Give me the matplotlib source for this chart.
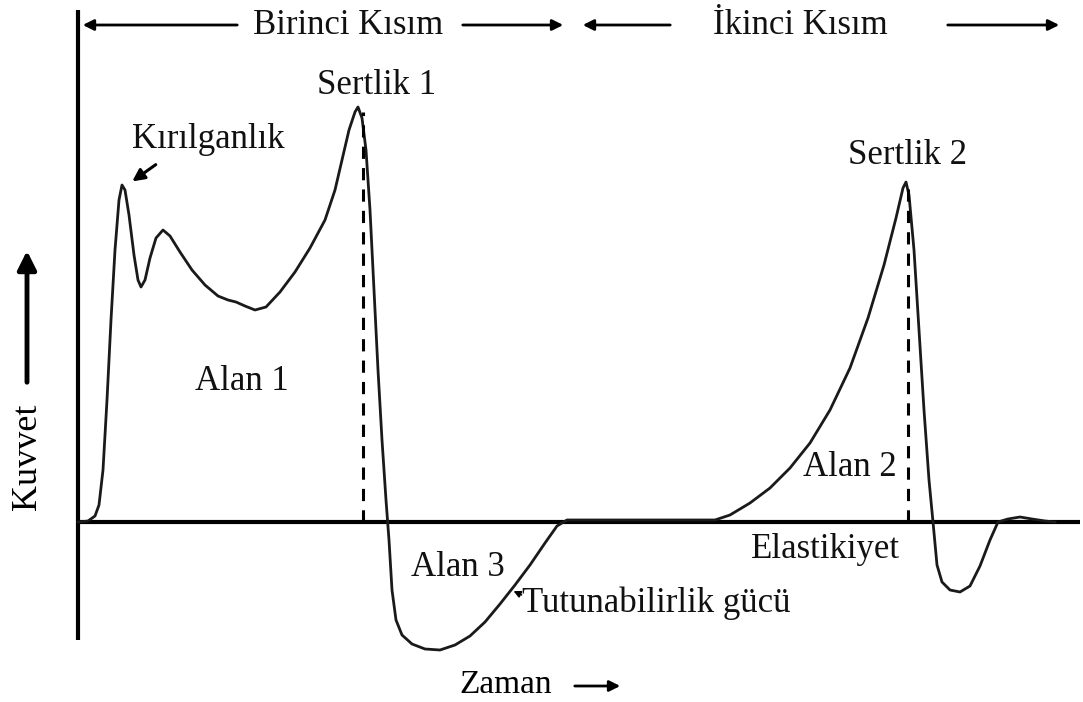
import matplotlib.pyplot as plt

# texture profile curve: time (x) and force (y), baseline at force 0
time = [0, 10, 17, 21, 25, 29, 33, 37, 41, 44, 47, 51, 56, 60, 63, 67, 72, 78, 85, 92,
        102, 114, 127, 140, 150, 158, 167, 177, 188, 202, 217, 232, 247, 257, 264, 271,
        277, 280, 284, 288, 292, 296, 300, 304, 308, 311, 314, 318, 324, 334, 347, 362,
        377, 392, 407, 422, 437, 452, 467, 479, 489, 502, 637, 652, 672, 692, 712, 732,
        752, 772, 790, 806, 818, 825, 828, 831, 836, 841, 846, 851, 855, 859, 864, 872,
        882, 892, 902, 912, 920, 930, 942, 954, 967, 977]
force = [0, 1, 6, 17, 52, 122, 202, 272, 322, 337, 332, 307, 267, 242, 235, 242, 264, 284,
         292, 286, 270, 252, 237, 226, 222, 220, 216, 212, 215, 230, 250, 274, 302, 332,
         362, 392, 410, 415, 404, 372, 312, 232, 152, 82, 22, -18, -68, -98, -113, -122,
         -127, -128, -123, -114, -100, -82, -63, -43, -21, -4, 2, 2, 2, 7, 19, 34, 54, 79,
         112, 154, 204, 257, 304, 334, 340, 327, 272, 192, 112, 42, 0, -43, -60, -68, -70,
         -64, -44, -18, 0, 3, 5, 3, 1, 0]

peak_times = [285, 830]
peak_forces = [410, 335]

labels = ["Sertlik 1", "Kırılganlık", "Sertlik 2", "Alan 1", "Alan 2", "Alan 3",
          "Tutunabilirlik gücü", "Elastikiyet"]
label_x = [299, 130, 830, 164, 772, 380, 444, 748]
label_y = [437, 382, 367, 140, 55, -45, -81, -28]

plt.rcParams["font.family"] = ["Liberation Serif", "DejaVu Serif"]
FS = 25

fig = plt.figure(figsize=(10.83, 7.02), dpi=100)
ax = fig.add_axes([0, 0, 1, 1])
ax.set_xlim(-78, 1005)
ax.set_ylim(-180, 522)
ax.axis("off")

# axes of the diagram
ax.plot([0, 0], [-118, 512], color="black", lw=3, solid_capstyle="butt")
ax.plot([0, 1002], [0, 0], color="black", lw=3, solid_capstyle="butt")

ax.plot(time, force, color="#1a1a1a", lw=2, solid_joinstyle="round")

for t, f in zip(peak_times, peak_forces):
    ax.plot([t, t], [0, f], color="black", lw=2.2, linestyle=(0, (4, 3)))

for text, x, y in zip(labels, label_x, label_y):
    ha = "left" if text.startswith("Tutun") else "center"
    ax.text(x, y, text, fontsize=FS, ha=ha, va="center", color="#111111")

arrow = dict(arrowstyle="-|>", color="black", lw=2, mutation_scale=16)
ax.annotate("", xy=(52, 339), xytext=(80, 359),
            arrowprops=dict(arrowstyle="-|>", color="black", lw=2.2, mutation_scale=18))
ax.annotate("", xy=(433, -68), xytext=(446, -74),
            arrowprops=dict(arrowstyle="-|>", color="black", lw=1.2, mutation_scale=10))

# section headers
top = 497
ax.text(270, top, "Birinci Kısım", fontsize=FS, ha="center", va="center", color="#111111")
ax.text(722, top, "İkinci Kısım", fontsize=FS, ha="center", va="center", color="#111111")
for x0, x1 in [(162, 2), (382, 488), (595, 502), (867, 984)]:
    ax.annotate("", xy=(x1, top), xytext=(x0, top), arrowprops=arrow)

# axis names
ax.text(-50, 65, "Kuvvet", fontsize=FS + 1, rotation=90, ha="center", va="center")
ax.annotate("", xy=(-51, 274), xytext=(-51, 137),
            arrowprops=dict(arrowstyle="-|>", color="black", lw=3.5, mutation_scale=28))
ax.text(428, -163, "Zaman", fontsize=FS - 1, ha="center", va="center")
ax.annotate("", xy=(545, -164), xytext=(494, -164), arrowprops=arrow)

fig.savefig("out.png", dpi=100)
